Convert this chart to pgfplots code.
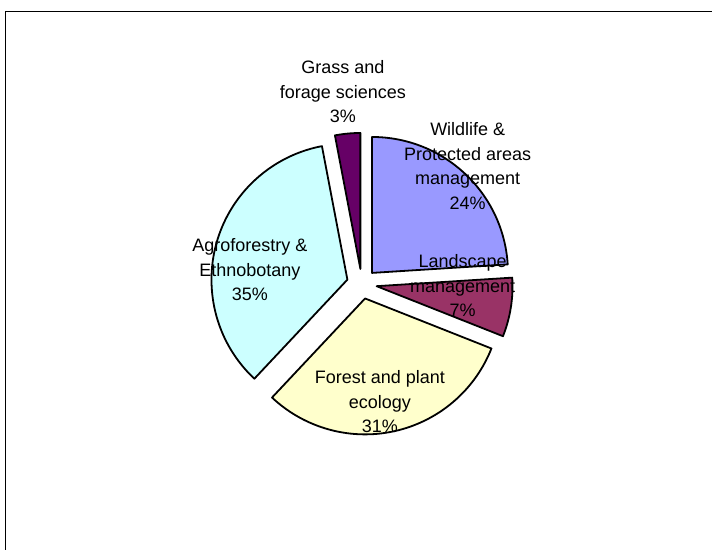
\documentclass[border=0pt]{standalone}
\usepackage{pgfplots}
\pgfplotsset{compat=1.18}
\usepackage{pgfplotstable}
\usepackage{fontspec}
\setmainfont{Liberation Sans}
\definecolor{wild}{HTML}{9999FF}
\definecolor{land}{HTML}{993366}
\definecolor{forest}{HTML}{FFFFCC}
\definecolor{agro}{HTML}{CCFFFF}
\definecolor{grass}{HTML}{660066}
\pgfplotstableread{
value color
24 wild
7 land
31 forest
35 agro
3 grass
}\piedata
\begin{document}
\begin{tikzpicture}
\begin{axis}[x=1pt,y=1pt,xmin=0,xmax=712,ymin=0,ymax=550,
  hide axis, scale only axis, clip=false, anchor=origin, at={(0,0)}]
\path (axis cs:0,0) rectangle (axis cs:712,550);
\draw[black, line width=0.8pt] (axis cs:5,0) -- (axis cs:5,539) -- (axis cs:712,539);
\xdef\cumangle{90}
\pgfplotsforeachungrouped \i in {0,...,4}{%
  \pgfplotstablegetelem{\i}{value}\of\piedata \let\v\pgfplotsretval
  \pgfplotstablegetelem{\i}{color}\of\piedata \let\col\pgfplotsretval
  \pgfmathsetmacro\aS{\cumangle}%
  \pgfmathsetmacro\aE{\cumangle-3.6*\v}%
  \pgfmathsetmacro\aM{(\aS+\aE)/2}%
  \pgfmathsetmacro\cx{362+15*cos(\aM)}%
  \pgfmathsetmacro\cy{266+15*sin(\aM)}%
  \pgfmathsetmacro\sx{\cx+136*cos(\aS)}%
  \pgfmathsetmacro\sy{\cy+136*sin(\aS)}%
  \edef\tmp{\noexpand\filldraw[fill=\col, draw=black, line width=1.8pt, line join=round] (axis cs:\cx,\cy) -- (axis cs:\sx,\sy) arc[start angle=\aS, end angle=\aE, radius=136pt] -- cycle;}%
  \tmp
  \xdef\cumangle{\aE}%
}
\tikzset{lab/.style={align=center, font=\fontsize{18}{24.5}\selectfont, inner sep=0pt}}
\node[lab] at (axis cs:343,458) {Grass and\\forage sciences\\3\%};
\node[lab] at (axis cs:468,384) {Wildlife \&\\Protected areas\\management\\24\%};
\node[lab] at (axis cs:463,264) {Landscape\\management\\7\%};
\node[lab] at (axis cs:250,280) {Agroforestry \&\\Ethnobotany\\35\%};
\node[lab] at (axis cs:380,148) {Forest and plant\\ecology\\31\%};
\end{axis}
\end{tikzpicture}
\end{document}
